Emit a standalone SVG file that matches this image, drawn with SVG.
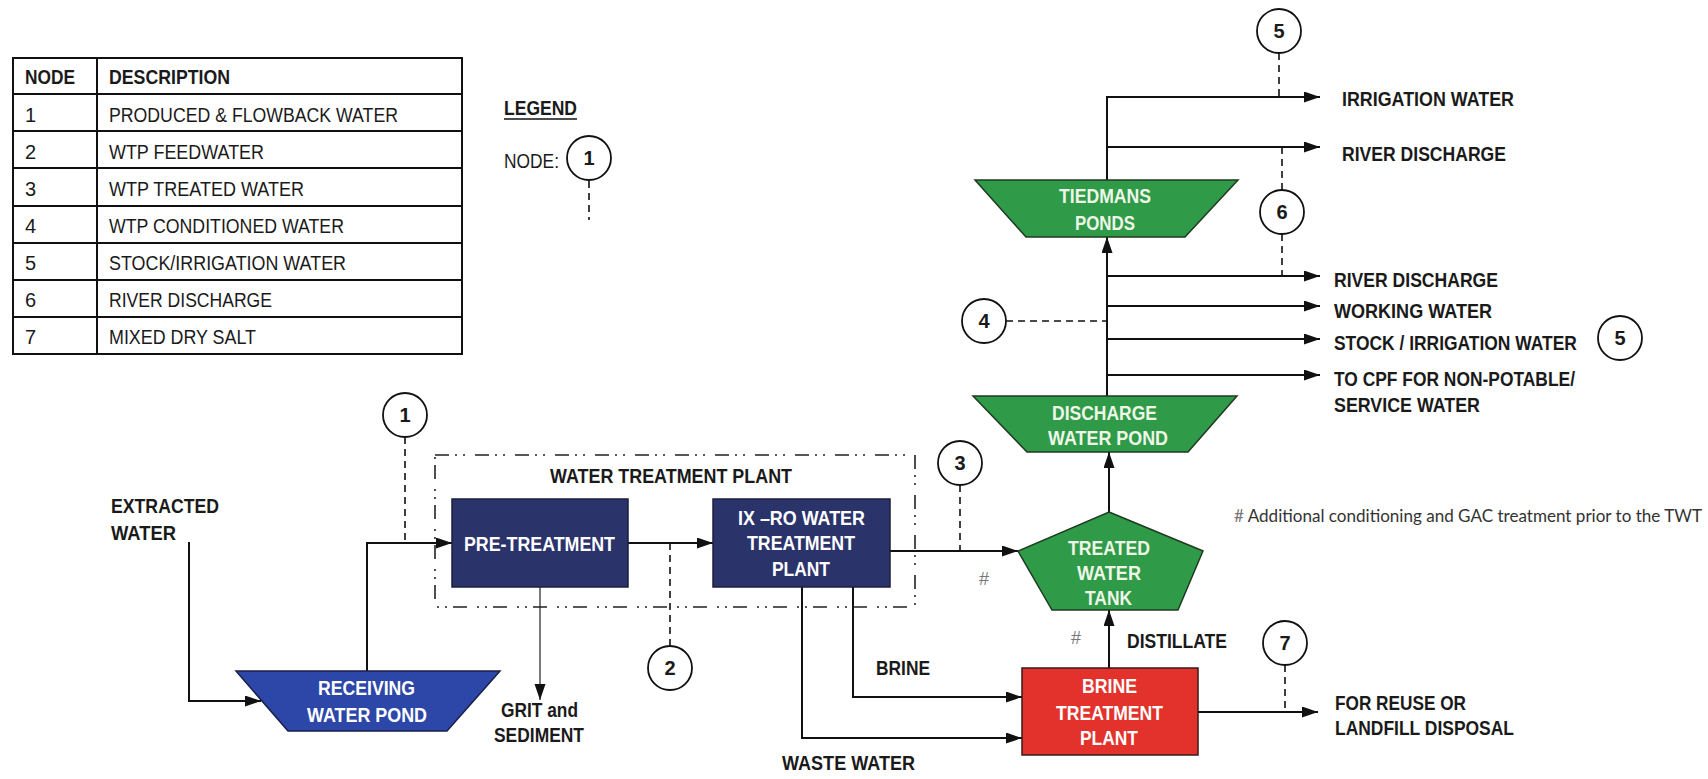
<svg xmlns="http://www.w3.org/2000/svg" width="1708" height="779" viewBox="0 0 1708 779">
<defs>
<marker id="arr" markerUnits="userSpaceOnUse" markerWidth="16" markerHeight="12" refX="16" refY="5.5" orient="auto">
<path d="M0,0 L16,5.5 L0,11 z" fill="#111"/>
</marker>
<style>
text{font-family:"Liberation Sans",Arial,sans-serif;}
.b{font-weight:bold;font-size:21px;fill:#1a1a1a;}
.r{font-size:20px;fill:#1a1a1a;}
.w{font-weight:bold;font-size:21px;fill:#ffffff;}
.g{font-weight:bold;font-size:21px;fill:#eef6e8;}
.n{font-weight:bold;font-size:20px;fill:#1a1a1a;text-anchor:middle;}
.conn{fill:none;stroke:#111;stroke-width:2;}
.thin{fill:none;stroke:#222;stroke-width:1.2;}
.dash{fill:none;stroke:#111;stroke-width:1.6;stroke-dasharray:7 5;}
.circ{fill:#fff;stroke:#111;stroke-width:1.8;}
.navy{fill:#2b336b;stroke:#1c1f3c;stroke-width:1.5;}
.blue{fill:#2c47a8;stroke:#1a1f4a;stroke-width:1.5;}
.green{fill:#2f9a48;stroke:#1f3a22;stroke-width:1.5;}
.red{fill:#e3322c;stroke:#3a1a1a;stroke-width:1.5;}
.tbl{fill:none;stroke:#111;stroke-width:2;}
.note{font-family:Lato,"Open Sans",sans-serif;font-size:16.5px;fill:#333;}
.hash{font-size:18px;fill:#777;}
</style>
</defs>
<rect width="1708" height="779" fill="#ffffff"/>

<g id="table">
<rect class="tbl" x="13" y="58" width="449" height="296"/>
<path class="tbl" d="M13,94H462M13,131H462M13,168H462M13,206H462M13,243H462M13,280H462M13,317H462M97,58V354"/>
<text class="b" x="25" y="84" textLength="50" lengthAdjust="spacingAndGlyphs">NODE</text>
<text class="b" x="109" y="84" textLength="121" lengthAdjust="spacingAndGlyphs">DESCRIPTION</text>
<text class="r" x="25" y="122">1</text>
<text class="r" x="109" y="122" textLength="289" lengthAdjust="spacingAndGlyphs">PRODUCED &amp; FLOWBACK WATER</text>
<text class="r" x="25" y="159">2</text>
<text class="r" x="109" y="159" textLength="155" lengthAdjust="spacingAndGlyphs">WTP FEEDWATER</text>
<text class="r" x="25" y="196">3</text>
<text class="r" x="109" y="196" textLength="195" lengthAdjust="spacingAndGlyphs">WTP TREATED WATER</text>
<text class="r" x="25" y="233">4</text>
<text class="r" x="109" y="233" textLength="235" lengthAdjust="spacingAndGlyphs">WTP CONDITIONED WATER</text>
<text class="r" x="25" y="270">5</text>
<text class="r" x="109" y="270" textLength="237" lengthAdjust="spacingAndGlyphs">STOCK/IRRIGATION WATER</text>
<text class="r" x="25" y="307">6</text>
<text class="r" x="109" y="307" textLength="163" lengthAdjust="spacingAndGlyphs">RIVER DISCHARGE</text>
<text class="r" x="25" y="344">7</text>
<text class="r" x="109" y="344" textLength="147" lengthAdjust="spacingAndGlyphs">MIXED DRY SALT</text>
</g>

<g id="legend">
<text class="b" x="504" y="115" textLength="73" lengthAdjust="spacingAndGlyphs">LEGEND</text>
<line x1="504" y1="119" x2="577" y2="119" stroke="#111" stroke-width="1.5"/>
<text class="r" x="504" y="168" textLength="55" lengthAdjust="spacingAndGlyphs">NODE:</text>
<line class="dash" x1="589" y1="181" x2="589" y2="220"/>
<circle class="circ" cx="589" cy="158" r="22"/>
<text class="n" x="589" y="165">1</text>
</g>

<g id="connectors">
<path class="conn" d="M189,542 V701 H261" marker-end="url(#arr)"/>
<path class="conn" d="M367,671 V543 H452" marker-end="url(#arr)"/>
<path class="conn" d="M628,543 H713" marker-end="url(#arr)"/>
<path class="thin" d="M540,587 V700" marker-end="url(#arr)"/>
<path class="conn" d="M890,551 H1018" marker-end="url(#arr)"/>
<path class="conn" d="M853,587 V697 H1022" marker-end="url(#arr)"/>
<path class="conn" d="M802,587 V738 H1022" marker-end="url(#arr)"/>
<path class="conn" d="M1109,668 V610" marker-end="url(#arr)"/>
<path class="conn" d="M1109,512 V452" marker-end="url(#arr)"/>
<path class="conn" d="M1107,396 V237" marker-end="url(#arr)"/>
<path class="conn" d="M1107,276 H1320" marker-end="url(#arr)"/>
<path class="conn" d="M1107,306 H1320" marker-end="url(#arr)"/>
<path class="conn" d="M1107,339 H1320" marker-end="url(#arr)"/>
<path class="conn" d="M1107,375 H1320" marker-end="url(#arr)"/>
<path class="conn" d="M1107,180 V97 H1320" marker-end="url(#arr)"/>
<path class="conn" d="M1107,147 H1320" marker-end="url(#arr)"/>
<path class="conn" d="M1198,712 H1318" marker-end="url(#arr)"/>
<path class="dash" d="M405,437 V543"/>
<path class="dash" d="M670,543 V646"/>
<path class="dash" d="M960,485 V551"/>
<path class="dash" d="M1006,321 H1107"/>
<path class="dash" d="M1279,53 V97"/>
<path class="dash" d="M1282,147 V190 M1282,234 V276"/>
<path class="dash" d="M1285,665 V712"/>
</g>

<g id="wtp-boundary">
<rect x="435" y="455" width="480" height="152" fill="none" stroke="#222" stroke-width="1.6" stroke-dasharray="14 6 2 6 2 10"/>
<text class="b" x="550" y="483" textLength="242" lengthAdjust="spacingAndGlyphs">WATER TREATMENT PLANT</text>
</g>

<g id="receiving-pond">
<polygon class="blue" points="236,671 500,671 447,731 288,731"/>
<text class="w" x="318" y="695" textLength="97" lengthAdjust="spacingAndGlyphs">RECEIVING</text>
<text class="w" x="307" y="722" textLength="120" lengthAdjust="spacingAndGlyphs">WATER POND</text>
</g>

<g id="pre-treatment">
<rect class="navy" x="452" y="499" width="176" height="88"/>
<text class="w" x="464" y="551" textLength="151" lengthAdjust="spacingAndGlyphs">PRE-TREATMENT</text>
</g>

<g id="ixro-plant">
<rect class="navy" x="713" y="499" width="177" height="88"/>
<text class="w" x="738" y="525" textLength="127" lengthAdjust="spacingAndGlyphs">IX –RO WATER</text>
<text class="w" x="747" y="550" textLength="108" lengthAdjust="spacingAndGlyphs">TREATMENT</text>
<text class="w" x="772" y="576" textLength="58" lengthAdjust="spacingAndGlyphs">PLANT</text>
</g>

<g id="treated-water-tank">
<polygon class="green" points="1109,512 1203,551 1178,610 1052,610 1018,551"/>
<text class="g" x="1068" y="555" textLength="82" lengthAdjust="spacingAndGlyphs">TREATED</text>
<text class="g" x="1077" y="580" textLength="64" lengthAdjust="spacingAndGlyphs">WATER</text>
<text class="g" x="1085" y="605" textLength="47" lengthAdjust="spacingAndGlyphs">TANK</text>
</g>

<g id="discharge-pond">
<polygon class="green" points="973,396 1237,396 1188,452 1027,452"/>
<text class="g" x="1052" y="420" textLength="105" lengthAdjust="spacingAndGlyphs">DISCHARGE</text>
<text class="g" x="1048" y="445" textLength="120" lengthAdjust="spacingAndGlyphs">WATER POND</text>
</g>

<g id="tiedmans-ponds">
<polygon class="green" points="975,180 1238,180 1185,237 1026,237"/>
<text class="g" x="1059" y="203" textLength="92" lengthAdjust="spacingAndGlyphs">TIEDMANS</text>
<text class="g" x="1075" y="230" textLength="60" lengthAdjust="spacingAndGlyphs">PONDS</text>
</g>

<g id="brine-plant">
<rect class="red" x="1022" y="668" width="176" height="87"/>
<text class="w" x="1082" y="693" textLength="55" lengthAdjust="spacingAndGlyphs">BRINE</text>
<text class="w" x="1056" y="720" textLength="107" lengthAdjust="spacingAndGlyphs">TREATMENT</text>
<text class="w" x="1080" y="745" textLength="58" lengthAdjust="spacingAndGlyphs">PLANT</text>
</g>

<g id="node-1"><circle class="circ" cx="405" cy="415" r="22"/><text class="n" x="405" y="422">1</text></g>
<g id="node-2"><circle class="circ" cx="670" cy="668" r="22"/><text class="n" x="670" y="675">2</text></g>
<g id="node-3"><circle class="circ" cx="960" cy="463" r="22"/><text class="n" x="960" y="470">3</text></g>
<g id="node-4"><circle class="circ" cx="984" cy="321" r="22"/><text class="n" x="984" y="328">4</text></g>
<g id="node-5a"><circle class="circ" cx="1279" cy="31" r="22"/><text class="n" x="1279" y="38">5</text></g>
<g id="node-5b"><circle class="circ" cx="1620" cy="338" r="22"/><text class="n" x="1620" y="345">5</text></g>
<g id="node-6"><circle class="circ" cx="1282" cy="212" r="22"/><text class="n" x="1282" y="219">6</text></g>
<g id="node-7"><circle class="circ" cx="1285" cy="643" r="22"/><text class="n" x="1285" y="650">7</text></g>

<g id="labels">
<text class="b" x="111" y="513" textLength="108" lengthAdjust="spacingAndGlyphs">EXTRACTED</text>
<text class="b" x="111" y="540" textLength="65" lengthAdjust="spacingAndGlyphs">WATER</text>
<text class="b" x="501" y="717" textLength="77" lengthAdjust="spacingAndGlyphs">GRIT and</text>
<text class="b" x="494" y="742" textLength="90" lengthAdjust="spacingAndGlyphs">SEDIMENT</text>
<text class="b" x="876" y="675" textLength="54" lengthAdjust="spacingAndGlyphs">BRINE</text>
<text class="b" x="782" y="770" textLength="133" lengthAdjust="spacingAndGlyphs">WASTE WATER</text>
<text class="hash" x="979" y="585">#</text>
<text class="hash" x="1071" y="644">#</text>
<text class="b" x="1127" y="648" textLength="100" lengthAdjust="spacingAndGlyphs">DISTILLATE</text>
<text class="b" x="1335" y="710" textLength="131" lengthAdjust="spacingAndGlyphs">FOR REUSE OR</text>
<text class="b" x="1335" y="735" textLength="179" lengthAdjust="spacingAndGlyphs">LANDFILL DISPOSAL</text>
<text class="note" x="1234" y="522" textLength="468" lengthAdjust="spacingAndGlyphs"><tspan fill="#777">#</tspan> Additional conditioning and GAC treatment prior to the TWT</text>
<text class="b" x="1342" y="106" textLength="172" lengthAdjust="spacingAndGlyphs">IRRIGATION WATER</text>
<text class="b" x="1342" y="161" textLength="164" lengthAdjust="spacingAndGlyphs">RIVER DISCHARGE</text>
<text class="b" x="1334" y="287" textLength="164" lengthAdjust="spacingAndGlyphs">RIVER DISCHARGE</text>
<text class="b" x="1334" y="318" textLength="158" lengthAdjust="spacingAndGlyphs">WORKING WATER</text>
<text class="b" transform="translate(1334,350) scale(0.83,1)" x="0" y="0">STOCK / IRRIGATION WATER</text>
<text class="b" x="1334" y="386" textLength="241" lengthAdjust="spacingAndGlyphs">TO CPF FOR NON-POTABLE/</text>
<text class="b" x="1334" y="412" textLength="146" lengthAdjust="spacingAndGlyphs">SERVICE WATER</text>
</g>
</svg>
